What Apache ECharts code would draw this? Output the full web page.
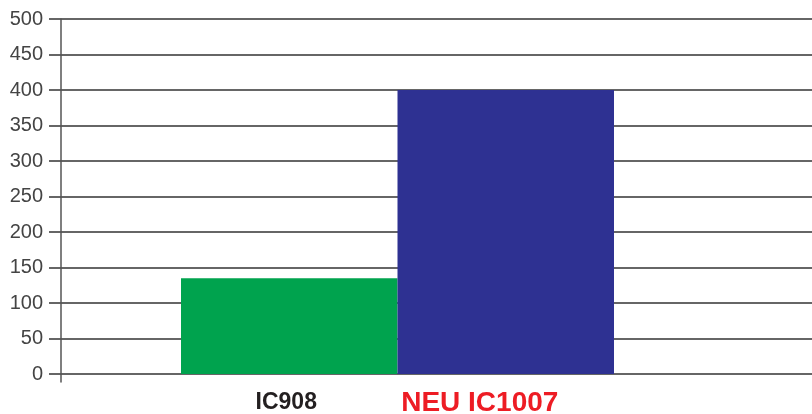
<!DOCTYPE html>
<html>
<head>
<meta charset="utf-8">
<script src="https://cdn.jsdelivr.net/npm/echarts@6/dist/echarts.min.js"></script>
<style>
  html, body { margin: 0; padding: 0; background: #fff; }
  #chart { width: 812px; height: 414px; }
</style>
</head>
<body>
<div id="chart"></div>
<script>
// data
const categories = ['IC908', 'NEU IC1007']
const values = [135, 400]
const yMin = 0
const yMax = 500
const yInterval = 50

// styles
const barColors = ['#00a34e', '#2e3192']
const labelStyles = ['a', 'b']

const chart = echarts.init(document.getElementById('chart'))

const option = {
  animation: false,
  backgroundColor: '#fff',
  grid: [
    // gridlines + tick labels
    { left: 49, right: 0, top: 19, bottom: 40, outerBoundsMode: 'none' },
    // bars
    { left: 181, width: 433, top: 19, bottom: 40, outerBoundsMode: 'none' },
    // vertical axis line
    { left: 61, right: 0, top: 19, bottom: 32, outerBoundsMode: 'none' }
  ],
  xAxis: [
    { type: 'category', gridIndex: 0, show: false, data: categories },
    {
      type: 'category',
      gridIndex: 1,
      data: categories,
      axisLine: { show: false },
      axisTick: { show: false },
      axisLabel: {
        interval: 0,
        margin: 14,
        formatter: (v, i) => '{' + labelStyles[i] + '|' + v + '}',
        rich: {
          a: {
            fontFamily: 'Liberation Sans, Arial, sans-serif',
            fontWeight: 'bold',
            fontSize: 23,
            color: '#231f20',
            lineHeight: 30,
            padding: [0, 6, 0, 0]
          },
          b: {
            fontFamily: 'Liberation Sans, Arial, sans-serif',
            fontWeight: 'bold',
            fontSize: 28,
            color: '#ed1c24',
            lineHeight: 30,
            padding: [0, 52, 0, 0]
          }
        }
      }
    },
    { type: 'category', gridIndex: 2, show: false, data: categories }
  ],
  yAxis: [
    {
      type: 'value',
      gridIndex: 0,
      min: yMin,
      max: yMax,
      interval: yInterval,
      axisLine: { show: false },
      axisTick: { show: false },
      axisLabel: {
        margin: 6,
        fontFamily: 'Liberation Sans, Arial, sans-serif',
        fontSize: 20,
        color: '#444',
        padding: [3, 0, 0, 0]
      },
      splitLine: { lineStyle: { color: '#333', width: 1.5 } }
    },
    { type: 'value', gridIndex: 1, min: yMin, max: yMax, interval: yInterval, show: false },
    {
      type: 'value',
      gridIndex: 2,
      min: yMin,
      max: yMax,
      axisLine: { show: true, lineStyle: { color: '#555', width: 1.5 } },
      axisTick: { show: false },
      axisLabel: { show: false },
      splitLine: { show: false }
    }
  ],
  series: [
    {
      type: 'bar',
      xAxisIndex: 1,
      yAxisIndex: 1,
      barWidth: '100%',
      data: values.map((v, i) => ({ value: v, itemStyle: { color: barColors[i] } }))
    }
  ]
}

chart.setOption(option)
</script>
</body>
</html>
